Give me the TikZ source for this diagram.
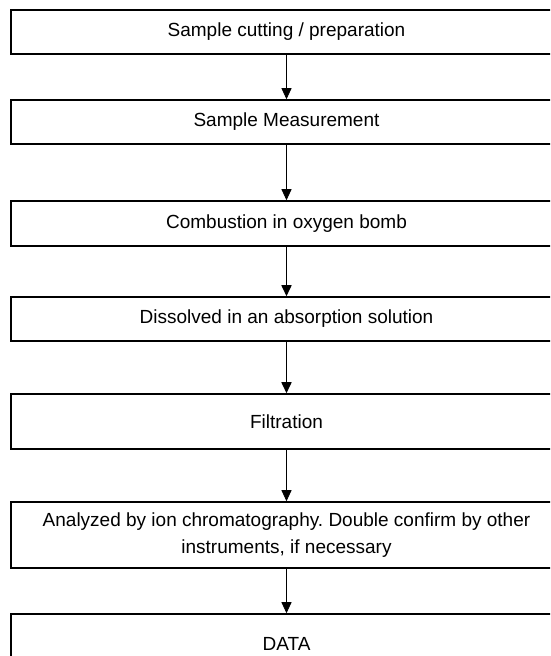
\documentclass[tikz,border=0pt]{standalone}
\usepackage{fontspec}
\setmainfont{Liberation Sans}
\usetikzlibrary{arrows.meta}
\frenchspacing

\begin{document}
\begin{tikzpicture}[x=1pt,y=1pt,>={Triangle[width=10pt,length=11pt]},
	stepbox/.style={draw, line width=1.5pt, minimum width=551pt, inner sep=0pt,
		align=center, font=\fontsize{19}{27}\selectfont},
	flow/.style={->, line width=0.8pt},
	thickflow/.style={->, line width=1.6pt}]
	\useasboundingbox (0,0) rectangle (550,656);
	\clip (0,0) rectangle (550,656);
	% \fill [white] (0,0) rectangle (550,656);
	\node [stepbox, minimum height=44pt] (cut) at (286.5,624) {Sample cutting / preparation};
	\node [stepbox, minimum height=44pt] (meas) at (286.5,534) {Sample Measurement};
	\node [stepbox, minimum height=45pt] (comb) at (286.5,432.5) {Combustion in oxygen bomb};
	\node [stepbox, minimum height=44pt] (diss) at (286.5,337) {Dissolved in an absorption solution};
	\node [stepbox, minimum height=55pt] (filt) at (286.5,234.5) {Filtration};
	\node [stepbox, minimum height=66pt] (ic) at (286.5,121) {Analyzed by ion chromatography. Double confirm by other\\instruments, if necessary};
	\node [stepbox, minimum height=60pt] (data) at (286.5,12) {DATA};
	\draw [flow] (cut) -- (meas);
	\draw [flow] (meas) -- (comb);
	\draw [thickflow] (comb) -- (diss);
	\draw [thickflow] (diss) -- (filt);
	\draw [flow] (filt) -- (ic);
	\draw [flow] (ic) -- (data);
\end{tikzpicture}
\end{document}
